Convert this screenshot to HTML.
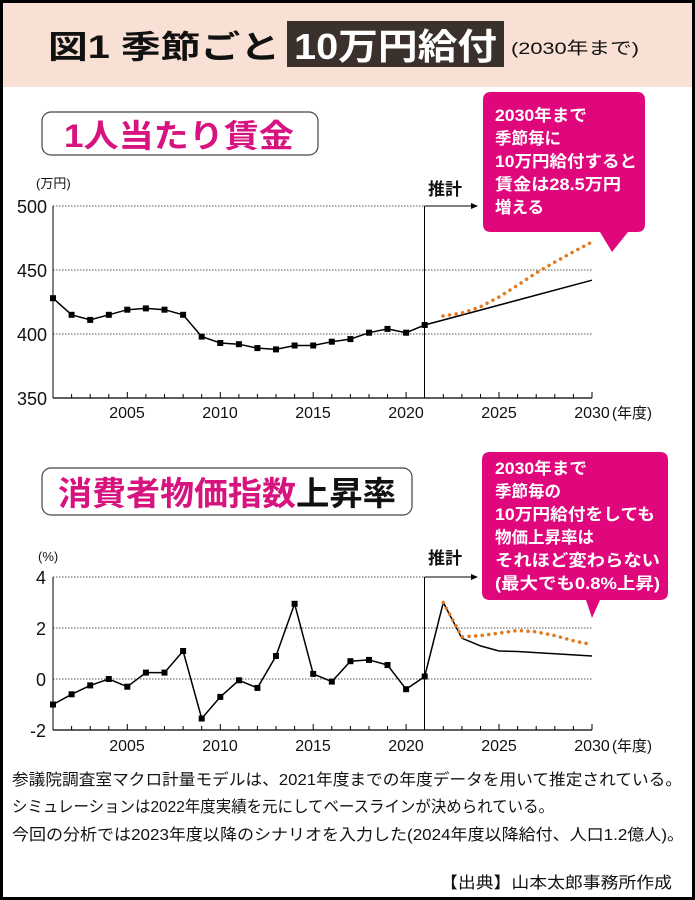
<!DOCTYPE html>
<html><head><meta charset="utf-8"><style>
html,body{margin:0;padding:0;background:#fff}
svg{display:block}
text{font-family:"Liberation Sans","Noto Sans CJK JP",sans-serif}
</style></head><body>
<svg width="695" height="900" viewBox="0 0 695 900" xmlns="http://www.w3.org/2000/svg">
<rect x="0" y="0" width="695" height="900" fill="#fff"/>
<rect x="2" y="2" width="691" height="85" fill="#f9e0d4"/>
<rect x="1.5" y="1.5" width="692" height="897" fill="none" stroke="#000" stroke-width="3"/>
<!-- title -->
<text x="48" y="58" font-size="32" font-weight="bold" fill="#111" textLength="232" lengthAdjust="spacingAndGlyphs">図1  季節ごと</text>
<rect x="287" y="21" width="217" height="46" fill="#3a302c"/>
<text x="294" y="59" font-size="36" font-weight="bold" fill="#fff" textLength="203" lengthAdjust="spacingAndGlyphs">10万円給付</text>
<text x="511" y="54" font-size="17" fill="#111" textLength="128" lengthAdjust="spacingAndGlyphs">(2030年まで)</text>

<!-- chart1 title box -->
<rect x="42" y="112" width="276" height="43" rx="9" fill="#fff" stroke="#444" stroke-width="1.2"/>
<text x="64" y="147" font-size="32" font-weight="bold" fill="#d6137e" textLength="230" lengthAdjust="spacingAndGlyphs">1人当たり賃金</text>

<!-- callout1 -->
<path d="M491,92 H637 Q645,92 645,100 V224 Q645,232 637,232 H628 L612,252 L600,232 H491 Q483,232 483,224 V100 Q483,92 491,92 Z" fill="#e0077c"/>
<g font-size="16.5" font-weight="bold" fill="#fff">
<text x="495" y="121" textLength="92" lengthAdjust="spacingAndGlyphs">2030年まで</text>
<text x="495" y="144">季節毎に</text>
<text x="495" y="167" textLength="142" lengthAdjust="spacingAndGlyphs">10万円給付すると</text>
<text x="495" y="190" textLength="126" lengthAdjust="spacingAndGlyphs">賃金は28.5万円</text>
<text x="495" y="213">増える</text>
</g>

<!-- chart1 axes -->
<text x="36" y="188" font-size="13" fill="#111">(万円)</text>
<g font-size="18" fill="#111" text-anchor="end">
<text x="47" y="213">500</text><text x="47" y="277">450</text><text x="47" y="341">400</text><text x="47" y="405">350</text>
</g>
<g stroke="#555" stroke-width="1" stroke-dasharray="1.5,1.5">
<line x1="53" y1="206" x2="424" y2="206"/><line x1="53" y1="270" x2="592" y2="270"/><line x1="53" y1="334" x2="592" y2="334"/>
</g>
<line x1="53" y1="206" x2="53" y2="398" stroke="#000" stroke-width="1"/>
<line x1="53" y1="398" x2="592" y2="398" stroke="#000" stroke-width="1.2"/>
<g stroke="#000" stroke-width="1">
<path d="M71.6,398v-4M90.2,398v-4M108.8,398v-4M127.3,398v-6M145.9,398v-4M164.5,398v-4M183.1,398v-4M201.7,398v-4M220.3,398v-6M238.9,398v-4M257.4,398v-4M276,398v-4M294.6,398v-4M313.2,398v-6M331.8,398v-4M350.4,398v-4M369,398v-4M387.5,398v-4M406.1,398v-6M443.3,398v-4M461.9,398v-4M480.5,398v-4M499,398v-6M517.6,398v-4M536.2,398v-4M554.8,398v-4M573.4,398v-4M592,398v-6"/>
</g>
<g font-size="16" fill="#111" text-anchor="middle">
<text x="127" y="418">2005</text><text x="220" y="418">2010</text><text x="313" y="418">2015</text><text x="406" y="418">2020</text><text x="499" y="418">2025</text><text x="592" y="418">2030</text>
</g>
<text x="612" y="418" font-size="15" fill="#111">(年度)</text>
<!-- 推計 1 -->
<line x1="424.5" y1="206" x2="424.5" y2="398" stroke="#000" stroke-width="1"/>
<line x1="424.5" y1="206" x2="473" y2="206" stroke="#000" stroke-width="1"/>
<path d="M478,206 L471,203 L471,209 Z" fill="#000"/>
<text x="428" y="195" font-size="17" font-weight="bold" fill="#111">推計</text>
<!-- series1 -->
<polyline fill="none" stroke="#000" stroke-width="1.5" points="53,298.2 71.6,314.8 90.2,319.9 108.8,314.8 127.3,309.7 145.9,308.4 164.5,309.7 183.1,314.8 201.7,336.6 220.3,343 238.9,344.2 257.4,348.1 276,349.4 294.6,345.5 313.2,345.5 331.8,341.7 350.4,339.1 369,332.7 387.5,328.9 406.1,332.7 424.7,325 592,280.2"/>
<g fill="#000">
<rect x="50" y="295.2" width="6" height="6"/><rect x="68.6" y="311.8" width="6" height="6"/><rect x="87.2" y="316.9" width="6" height="6"/><rect x="105.8" y="311.8" width="6" height="6"/><rect x="124.3" y="306.7" width="6" height="6"/><rect x="142.9" y="305.4" width="6" height="6"/><rect x="161.5" y="306.7" width="6" height="6"/><rect x="180.1" y="311.8" width="6" height="6"/><rect x="198.7" y="333.6" width="6" height="6"/><rect x="217.3" y="340" width="6" height="6"/><rect x="235.9" y="341.2" width="6" height="6"/><rect x="254.4" y="345.1" width="6" height="6"/><rect x="273" y="346.4" width="6" height="6"/><rect x="291.6" y="342.5" width="6" height="6"/><rect x="310.2" y="342.5" width="6" height="6"/><rect x="328.8" y="338.7" width="6" height="6"/><rect x="347.4" y="336.1" width="6" height="6"/><rect x="366" y="329.7" width="6" height="6"/><rect x="384.5" y="325.9" width="6" height="6"/><rect x="403.1" y="329.7" width="6" height="6"/><rect x="421.7" y="322" width="6" height="6"/>
</g>
<polyline fill="none" stroke="#e07a20" stroke-width="3.5" stroke-linecap="round" stroke-dasharray="0.1,6.5" points="443,316 462,313 480,307 499,297 518,285 536,273 555,262 573,252 592,242"/>

<!-- chart2 title box -->
<rect x="42" y="468" width="370" height="47" rx="9" fill="#fff" stroke="#444" stroke-width="1.2"/>
<text x="58" y="505" font-size="33" font-weight="bold" fill="#d6137e" textLength="238" lengthAdjust="spacingAndGlyphs">消費者物価指数</text>
<text x="296" y="505" font-size="33" font-weight="bold" fill="#111" textLength="100" lengthAdjust="spacingAndGlyphs">上昇率</text>

<!-- callout2 -->
<path d="M490,452 H660 Q668,452 668,460 V592 Q668,600 660,600 H600 L592,618 L586,600 H490 Q482,600 482,592 V460 Q482,452 490,452 Z" fill="#e0077c"/>
<g font-size="16.5" font-weight="bold" fill="#fff">
<text x="495" y="474" textLength="92" lengthAdjust="spacingAndGlyphs">2030年まで</text>
<text x="495" y="497">季節毎の</text>
<text x="495" y="520" textLength="160" lengthAdjust="spacingAndGlyphs">10万円給付をしても</text>
<text x="495" y="543">物価上昇率は</text>
<text x="495" y="566" textLength="165" lengthAdjust="spacingAndGlyphs">それほど変わらない</text>
<text x="495" y="589" textLength="165" lengthAdjust="spacingAndGlyphs">(最大でも0.8%上昇)</text>
</g>

<!-- chart2 axes -->
<text x="38" y="561" font-size="13" fill="#111">(%)</text>
<g font-size="18" fill="#111" text-anchor="end">
<text x="46" y="584">4</text><text x="46" y="635">2</text><text x="46" y="686">0</text><text x="46" y="737">-2</text>
</g>
<g stroke="#555" stroke-width="1" stroke-dasharray="1.5,1.5">
<line x1="53" y1="577" x2="424" y2="577"/><line x1="53" y1="628" x2="592" y2="628"/><line x1="53" y1="679" x2="592" y2="679"/>
</g>
<line x1="53" y1="577" x2="53" y2="730" stroke="#000" stroke-width="1"/>
<line x1="53" y1="730" x2="592" y2="730" stroke="#000" stroke-width="1.2"/>
<g stroke="#000" stroke-width="1">
<path d="M71.6,730v-4M90.2,730v-4M108.8,730v-4M127.3,730v-6M145.9,730v-4M164.5,730v-4M183.1,730v-4M201.7,730v-4M220.3,730v-6M238.9,730v-4M257.4,730v-4M276,730v-4M294.6,730v-4M313.2,730v-6M331.8,730v-4M350.4,730v-4M369,730v-4M387.5,730v-4M406.1,730v-6M443.3,730v-4M461.9,730v-4M480.5,730v-4M499,730v-6M517.6,730v-4M536.2,730v-4M554.8,730v-4M573.4,730v-4M592,730v-6"/>
</g>
<g font-size="16" fill="#111" text-anchor="middle">
<text x="127" y="751">2005</text><text x="220" y="751">2010</text><text x="313" y="751">2015</text><text x="406" y="751">2020</text><text x="499" y="751">2025</text><text x="592" y="751">2030</text>
</g>
<text x="612" y="751" font-size="15" fill="#111">(年度)</text>
<line x1="424.5" y1="577" x2="424.5" y2="730" stroke="#000" stroke-width="1"/>
<line x1="424.5" y1="577" x2="473" y2="577" stroke="#000" stroke-width="1"/>
<path d="M478,577 L471,574 L471,580 Z" fill="#000"/>
<text x="428" y="564" font-size="17" font-weight="bold" fill="#111">推計</text>
<polyline fill="none" stroke="#000" stroke-width="1.5" points="53,704.5 71.6,694.3 90.2,685.4 108.8,679 127.3,686.7 145.9,672.6 164.5,672.6 183.1,651 201.7,718.5 220.3,696.9 238.9,680.3 257.4,687.9 276,656 294.6,603.8 313.2,673.9 331.8,681.6 350.4,661.2 369,659.9 387.5,665 406.1,689.2 424.7,676.5 443.3,602.5 461.9,638.2 480.5,645.9 499,651 517.6,651.5 592,656"/>
<g fill="#000">
<rect x="50" y="701.5" width="6" height="6"/><rect x="68.6" y="691.3" width="6" height="6"/><rect x="87.2" y="682.4" width="6" height="6"/><rect x="105.8" y="676" width="6" height="6"/><rect x="124.3" y="683.7" width="6" height="6"/><rect x="142.9" y="669.6" width="6" height="6"/><rect x="161.5" y="669.6" width="6" height="6"/><rect x="180.1" y="648" width="6" height="6"/><rect x="198.7" y="715.5" width="6" height="6"/><rect x="217.3" y="693.9" width="6" height="6"/><rect x="235.9" y="677.3" width="6" height="6"/><rect x="254.4" y="684.9" width="6" height="6"/><rect x="273" y="653" width="6" height="6"/><rect x="291.6" y="600.8" width="6" height="6"/><rect x="310.2" y="670.9" width="6" height="6"/><rect x="328.8" y="678.6" width="6" height="6"/><rect x="347.4" y="658.2" width="6" height="6"/><rect x="366" y="656.9" width="6" height="6"/><rect x="384.5" y="662" width="6" height="6"/><rect x="403.1" y="686.2" width="6" height="6"/><rect x="421.7" y="673.5" width="6" height="6"/>
</g>
<polyline fill="none" stroke="#e07a20" stroke-width="3.5" stroke-linecap="round" stroke-dasharray="0.1,6.5" points="443.3,602.5 461.9,636.9 480.5,635.6 499,633.1 517.6,630.5 536.2,631.8 554.8,635.6 573.4,640.8 592,644.6"/>

<!-- notes -->
<g font-size="16" fill="#111">
<text x="12" y="785" textLength="670" lengthAdjust="spacingAndGlyphs">参議院調査室マクロ計量モデルは、2021年度までの年度データを用いて推定されている。</text>
<text x="12" y="812" textLength="542" lengthAdjust="spacingAndGlyphs">シミュレーションは2022年度実績を元にしてベースラインが決められている。</text>
<text x="12" y="840" textLength="672" lengthAdjust="spacingAndGlyphs">今回の分析では2023年度以降のシナリオを入力した(2024年度以降給付、人口1.2億人)。</text>
</g>
<text x="440" y="888" font-size="16" fill="#111" font-family="Liberation Serif,'Noto Serif CJK SC',serif" textLength="232" lengthAdjust="spacingAndGlyphs">【出典】山本太郎事務所作成</text>
</svg>
</body></html>
